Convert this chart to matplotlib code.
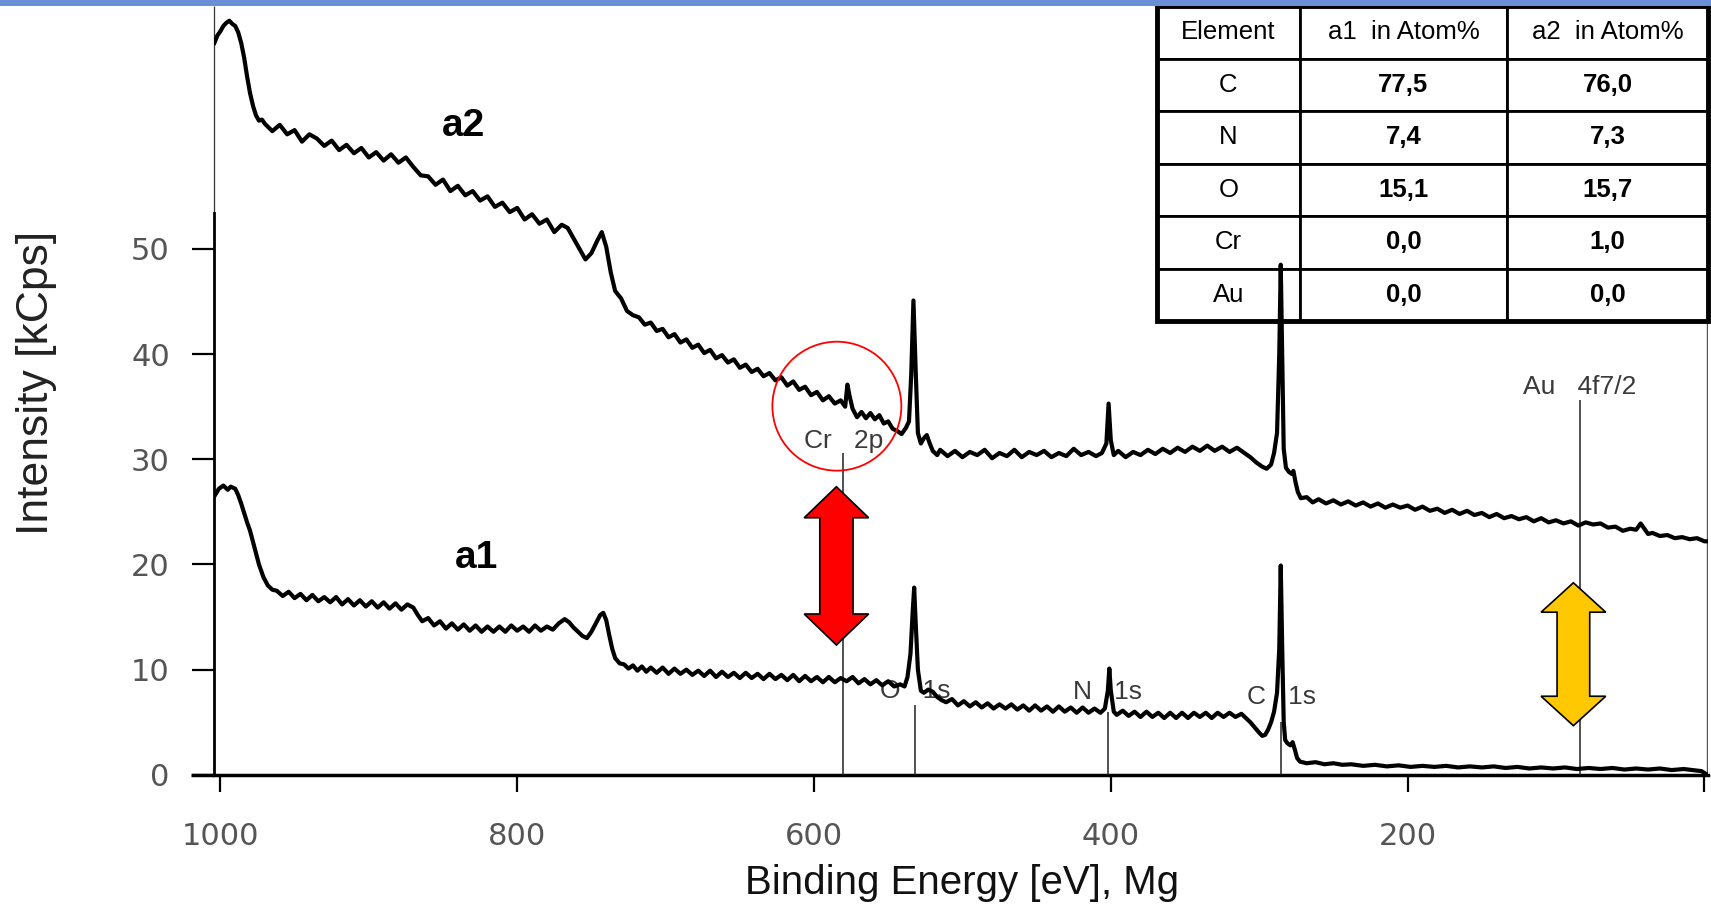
import matplotlib
matplotlib.use("Agg")
import matplotlib.pyplot as plt
from matplotlib.patches import Polygon, Ellipse, Rectangle

# --- spectrum a2 (upper trace), binding energy [eV] / intensity [kCps]
a2_be = [1004, 1002, 1000, 998, 996, 994, 992, 990, 988, 986, 984, 982, 980, 978, 976, 974, 972,
         970, 965, 960, 955, 950, 945, 940, 935, 930, 925, 920, 915, 910, 905, 900, 895, 890, 885,
         880, 875, 870, 865, 860, 855, 850, 845, 840, 835, 830, 825, 820, 815, 810, 805, 800, 795,
         790, 785, 780, 775, 770, 766, 762, 758, 754, 750, 746, 743, 740, 737, 734, 730, 726, 722,
         718, 714, 710, 706, 702, 698, 694, 690, 686, 682, 678, 674, 670, 666, 662, 658, 654, 650,
         646, 642, 638, 634, 630, 626, 622, 618, 614, 610, 606, 602, 598, 594, 590, 586, 582, 579,
         577.5, 576, 574, 571, 568, 565, 562, 559, 556, 553, 550, 547, 544, 541, 538, 536, 534.5,
         533, 531.5, 530, 528, 526, 524, 522, 520, 517,
         515, 510, 505, 500, 495, 490, 485, 480, 475, 470, 465, 460, 455, 450, 445, 440, 435, 430,
         425, 420, 415, 410, 406, 403, 401.5, 400, 398, 395, 390, 385, 380, 375, 370, 365, 360, 355,
         350, 345, 340, 335, 330, 325, 320, 315, 310, 306, 302, 298, 295, 292, 290, 288, 286.5,
         285.5, 284.5, 283.5, 282, 280, 278, 277, 275.5, 274, 272, 268, 264, 260, 255, 250, 245,
         240, 235, 230, 225, 220, 215, 210, 205, 200, 195, 190, 185, 180, 175, 170, 165, 160, 155,
         150, 145, 140, 135, 130, 125, 120, 115, 110, 105, 100, 95, 90, 85, 80, 75, 70, 65, 60, 55,
         50, 46, 43, 41, 38, 35, 30, 25, 20, 15, 10, 5, 0, -2]
a2_cps = [69.6, 70.3, 70.7, 71.2, 71.5, 71.7, 71.4, 71.2, 70.6, 69.6, 68.2, 66.4, 64.8, 63.6, 62.7,
          62.2, 62.3,
          61.9, 61.2, 61.8, 60.9, 61.3, 60.2, 60.9, 60.5, 59.8, 60.3, 59.4, 59.9, 59.1, 59.6, 58.7,
          59.2, 58.4, 59.0, 58.2, 58.7, 57.8, 57.0, 56.9, 56.1, 56.6, 55.5, 56.0, 55.1, 55.5, 54.6,
          55.0, 54.0, 54.4, 53.5, 53.9, 52.8, 53.3, 52.4, 52.8, 51.6, 52.3, 52.0, 51.0, 50.0, 49.0,
          49.6, 50.8, 51.6, 50.2, 47.8, 46.0, 45.3, 44.1, 43.7, 43.5, 42.8, 43.0, 42.2, 42.4, 41.6,
          41.9, 41.1, 41.4, 40.6, 40.9, 40.1, 40.4, 39.6, 39.9, 39.2, 39.5, 38.7, 39.0, 38.3, 38.6,
          37.9, 38.2, 37.5, 37.8, 37.0, 37.4, 36.6, 36.9, 36.1, 36.4, 35.6, 36.0, 35.3, 35.6, 35.0,
          37.1, 36.0, 34.8, 34.0, 34.5, 33.9, 34.4, 33.8, 34.2, 33.4, 33.6, 32.9, 32.7, 32.4, 33.0,
          33.6, 38.0, 45.1, 38.5, 32.5, 31.5, 32.0, 32.3, 31.5, 30.8, 30.4,
          30.9, 30.3, 30.8, 30.2, 30.7, 30.4, 30.9, 30.1, 30.6, 30.3, 30.9, 30.2, 30.7, 30.4, 30.8,
          30.2, 30.6, 30.3, 31.0, 30.4, 30.7, 30.3, 30.6, 31.5, 35.3, 31.8, 30.4, 30.8, 30.2, 30.7,
          30.4, 30.9, 30.5, 31.0, 30.6, 31.1, 30.7, 31.2, 30.8, 31.3, 30.8, 31.2, 30.7, 31.1, 30.6,
          30.2, 29.7, 29.3, 29.1, 29.5, 30.6, 32.5, 40.0, 48.5, 40.0, 31.0, 29.2, 28.8, 28.6, 28.9,
          27.8, 26.9, 26.3, 26.4, 25.9, 26.2, 25.8, 26.1, 25.7, 26.0, 25.6, 25.9, 25.5, 25.8, 25.4,
          25.7, 25.4, 25.6, 25.2, 25.5, 25.1, 25.3, 24.9, 25.2, 24.8, 25.1, 24.7, 24.9, 24.5, 24.8,
          24.4, 24.6, 24.3, 24.5, 24.1, 24.4, 24.0, 24.2, 23.9, 24.1, 23.7, 24.0, 23.8, 23.9, 23.5,
          23.6, 23.2, 23.4, 23.3, 23.9, 23.5, 22.9, 23.0, 22.7, 22.8, 22.5, 22.6, 22.4, 22.5, 22.2,
          22.2]

# --- spectrum a1 (lower trace)
a1_be = [1004, 1001, 998, 995, 993, 990, 988, 986, 984, 982, 980, 977, 974, 971, 968, 965,
         962, 958, 954, 950, 946, 942, 938, 934, 930, 926, 922, 918, 914, 910, 906, 902, 898, 894,
         890, 886, 882, 878, 874, 870, 867, 864, 860, 856, 852, 848, 844, 840, 836, 832, 828, 824,
         820, 816, 812, 808, 804, 800, 796, 792, 788, 784, 780, 776, 772, 768, 765, 762, 759, 756,
         753, 750, 747, 744, 742, 740, 738, 736, 734, 731, 728, 725, 722, 719, 716, 713, 710, 706,
         702, 698, 694, 690, 686, 682, 678, 674, 670, 666, 662, 658, 654, 650, 646, 642, 638, 634,
         630, 626, 622, 618, 614, 610, 606, 602, 598, 594, 590, 586, 582, 578, 574, 570, 566, 562,
         558, 554, 550, 546, 542, 539, 537, 535, 533.5, 532.5, 531.5, 530, 528, 526, 523, 520,
         517, 514, 511, 507, 503, 499, 495, 491, 487, 483, 479, 475, 471, 467, 463, 459, 455, 451,
         447, 443, 439, 435, 431, 427, 423, 419, 415, 411, 407, 404, 402, 401, 400, 398, 396, 392,
         388, 384, 380, 376, 372, 368, 364, 360, 356, 352, 348, 344, 340, 336, 332, 328, 324, 320,
         316, 312, 309, 306, 303, 300, 298, 296, 294, 292, 290, 288, 286.5, 285.5, 284.5, 283.5,
         282.5, 281, 279, 277.5, 276, 274.5, 272.5, 268, 262, 256, 250, 244, 238, 230, 222, 214,
         206, 198, 190, 182, 174, 166, 158, 150, 142, 134, 126, 118, 110, 102, 94, 86, 78, 70, 62,
         54, 46, 38, 30, 22, 14, 8, 2, -2]
a1_cps = [26.5, 27.2, 27.5, 27.1, 27.4, 27.2, 26.6, 25.8, 24.9, 24.0, 23.2, 21.6, 20.0, 18.8,
          18.0, 17.6,
          17.5, 17.0, 17.4, 16.8, 17.2, 16.6, 17.1, 16.5, 16.9, 16.4, 16.9, 16.2, 16.7, 16.1, 16.6,
          16.0, 16.5, 15.9, 16.4, 15.8, 16.3, 15.7, 16.2, 15.9, 15.2, 14.6, 14.9, 14.2, 14.6, 13.9,
          14.4, 13.8, 14.3, 13.7, 14.2, 13.6, 14.1, 13.6, 14.1, 13.6, 14.2, 13.7, 14.1, 13.6, 14.2,
          13.7, 14.1, 13.8, 14.4, 14.8, 14.5, 14.0, 13.6, 13.2, 13.0, 13.6, 14.4, 15.2, 15.4, 14.7,
          13.3, 12.0, 11.1, 10.6, 10.5, 10.1, 10.4, 9.9, 10.3, 9.8, 10.2, 9.7, 10.2, 9.6, 10.1, 9.6,
          10.0, 9.5, 9.9, 9.4, 9.9, 9.3, 9.8, 9.3, 9.7, 9.2, 9.7, 9.2, 9.6, 9.1, 9.6, 9.1, 9.5, 9.0,
          9.5, 8.9, 9.4, 8.9, 9.3, 8.8, 9.3, 8.8, 9.2, 8.9, 9.3, 8.7, 9.1, 8.6, 9.0, 8.5, 8.9, 8.4,
          8.6, 8.4, 9.3, 11.5, 15.5, 17.8, 14.5, 10.0, 8.0, 7.8, 8.1, 7.9,
          7.4, 7.1, 6.9, 7.2, 6.6, 7.0, 6.5, 6.9, 6.4, 6.8, 6.3, 6.7, 6.3, 6.7, 6.2, 6.6, 6.1, 6.6,
          6.1, 6.5, 6.0, 6.5, 6.0, 6.4, 5.9, 6.4, 5.9, 6.3, 5.9, 6.3, 8.0, 10.1, 8.0, 6.0, 5.7, 6.1,
          5.6, 6.0, 5.5, 6.0, 5.5, 5.9, 5.4, 5.9, 5.4, 5.9, 5.4, 5.9, 5.5, 5.9, 5.4, 5.9, 5.5, 5.9,
          5.5, 5.8, 5.4, 5.0, 4.5, 4.0, 3.7, 3.8, 4.3, 5.0, 6.0, 7.8, 12.0, 19.9, 12.0, 5.0,
          3.3, 3.0, 2.8, 3.1, 2.4, 1.6, 1.25, 1.1, 1.2, 1.0, 1.1, 0.95, 1.0, 0.85, 0.95, 0.8,
          0.9, 0.75, 0.85, 0.75, 0.85, 0.7, 0.8, 0.7, 0.8, 0.65, 0.75, 0.6, 0.7, 0.6, 0.7, 0.55,
          0.65, 0.55, 0.65, 0.5, 0.6, 0.5, 0.6, 0.45, 0.55, 0.45, 0.35, 0.0]

# --- peak markers
peak_labels = ["Cr   2p", "O   1s", "N   1s", "C   1s", "Au   4f7/2"]
peak_be = [580.3, 531.7, 402.0, 285.0, 83.8]
peak_line_top = [30.6, 6.6, 6.0, 5.0, 35.6]
peak_label_y = [31.7, 7.95, 7.9, 7.4, 36.9]

# --- composition table
elements = ["C", "N", "O", "Cr", "Au"]
a1_atom = [77.5, 7.4, 15.1, 0.0, 0.0]
a2_atom = [76.0, 7.3, 15.7, 1.0, 0.0]
col_labels = ["Element", "a1  in Atom%", "a2  in Atom%"]

x_ticks = [1000, 800, 600, 400, 200, 0]
x_ticklabels = ["1000", "800", "600", "400", "200", ""]
y_ticks = [0, 10, 20, 30, 40, 50]

plt.rcParams["font.family"] = ["Liberation Sans", "DejaVu Sans"]

fig = plt.figure(figsize=(17.11, 9.09), dpi=100)
ax = fig.add_axes([214 / 1711, 1 - 774.8 / 909, 1494 / 1711, 768.8 / 909])

XL, XR = 1004.3, -2.4
ax.set_xlim(XL, XR)
ax.set_ylim(0, 73.1)

# spectra
ax.plot(a2_be, a2_cps, color="black", lw=3.0, zorder=5, solid_joinstyle="round")
ax.plot(a1_be, a1_cps, color="black", lw=3.0, zorder=5, solid_joinstyle="round")

# peak marker lines and labels
for name, be, top, ly in zip(peak_labels, peak_be, peak_line_top, peak_label_y):
    ax.vlines(be, 0, top, color="#222222", lw=1.1, zorder=3)
    ax.text(be, ly, name, ha="center", va="center", fontsize=19, color="#3a3a3a", zorder=4)

ax.text(836.5, 61.7, "a2", ha="center", va="center", fontsize=28, fontweight="bold")
ax.text(827.3, 20.65, "a1", ha="center", va="center", fontsize=28, fontweight="bold")

# red circle round the Cr 2p feature
ax.add_patch(Ellipse((584.6, 35.05), 86.9, 12.26, fill=False, ec="red", lw=1.3, zorder=6))


def double_arrow(x, y_lo, y_hi, head_len, head_hw, shaft_hw, color):
    pts = [(x, y_hi), (x + head_hw, y_hi - head_len), (x + shaft_hw, y_hi - head_len),
           (x + shaft_hw, y_lo + head_len), (x + head_hw, y_lo + head_len), (x, y_lo),
           (x - head_hw, y_lo + head_len), (x - shaft_hw, y_lo + head_len),
           (x - shaft_hw, y_hi - head_len), (x - head_hw, y_hi - head_len)]
    ax.add_patch(Polygon(pts, closed=True, fc=color, ec="black", lw=1.2, zorder=7))


double_arrow(584.9, 12.34, 27.39, 2.95, 21.7, 11.2, "#ff0000")
double_arrow(88.3, 4.67, 18.26, 2.8, 21.8, 11.0, "#ffc800")

# axes styling
for s in ["top", "right"]:
    ax.spines[s].set_visible(False)
ax.spines["left"].set_bounds(0, 53.4)
ax.spines["left"].set_linewidth(2.0)
ax.spines["bottom"].set_linewidth(2.5)
ax.vlines(XL, 53.4, 73.1, color="#333333", lw=0.9, clip_on=False)
ax.hlines(0, 1019.8, XL, color="black", lw=2.5, clip_on=False)
ax.vlines(-1.6, 0, 43.5, color="#555555", lw=1.0, zorder=3)

ax.set_xticks(x_ticks)
ax.set_xticklabels(x_ticklabels)
ax.set_yticks(y_ticks)
ax.tick_params(axis="x", direction="out", length=12, width=1.6, pad=22,
               labelsize=22, labelcolor="#555555")
ax.tick_params(axis="y", direction="out", length=15.8, width=1.6, pad=16,
               labelsize=22, labelcolor="#555555")
for lab in ax.get_xticklabels() + ax.get_yticklabels():
    lab.set_family("DejaVu Sans")

fig.text(0.562, 1 - 883.5 / 909, "Binding Energy [eV], Mg", ha="center", va="center",
         fontsize=29, color="#111111")
fig.text(37 / 1711, 1 - 383 / 909, "Intensity [kCps]", ha="center", va="center",
         rotation=90, fontsize=32, color="#222222")

# composition table (upper right)
cell_text = [[el, f"{v1:.1f}".replace(".", ","), f"{v2:.1f}".replace(".", ",")]
             for el, v1, v2 in zip(elements, a1_atom, a2_atom)]
tb_x, tb_y, tb_w, tb_h = 0.631, 0.590, 0.369, 0.410
tab = ax.table(cellText=cell_text, colLabels=col_labels, colWidths=[0.26, 0.375, 0.365],
               cellLoc="center", bbox=[tb_x, tb_y, tb_w, tb_h])
tab.auto_set_font_size(False)
tab.set_fontsize(18.5)
for (r, c), cell in tab.get_celld().items():
    cell.set_linewidth(2.0)
    cell.set_edgecolor("black")
    cell.set_facecolor("white")
    if r > 0 and c > 0:
        cell.get_text().set_fontweight("bold")
tab.set_zorder(4)
tab.set_clip_on(False)
ax.add_patch(Rectangle((tb_x, tb_y), tb_w, tb_h, transform=ax.transAxes, fill=False,
                       lw=3.5, ec="black", zorder=4.5, clip_on=False))

# blue bar along the top edge
fig.patches.append(Rectangle((0, 1 - 6 / 909), 1, 6 / 909, transform=fig.transFigure,
                             fc="#6b8ed6", ec="none", zorder=10))

fig.savefig("out.png", dpi=100)
